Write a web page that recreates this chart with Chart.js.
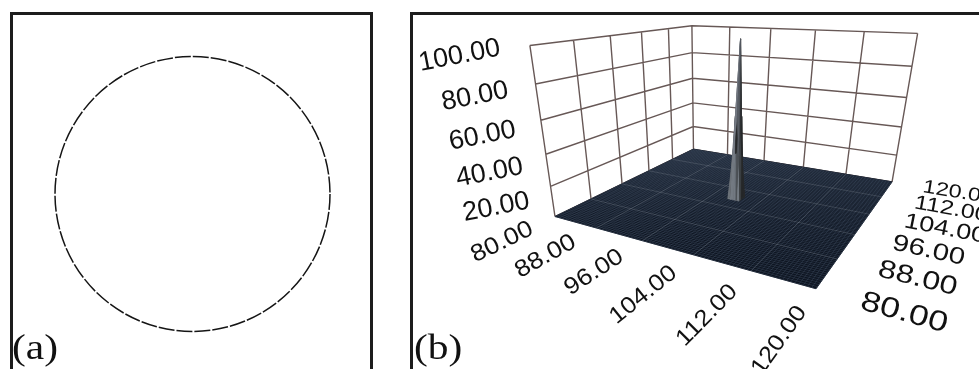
<!DOCTYPE html>
<html>
<head>
<meta charset="utf-8">
<script src="https://cdn.jsdelivr.net/npm/chart.js@4.4.1/dist/chart.umd.min.js"></script>
<style>
  html, body { margin: 0; padding: 0; background: #fff; overflow: hidden; }
  body { width: 979px; height: 369px; position: relative; }
  canvas { position: absolute; top: 0; }
  #canvasA { left: 0; }
  #canvasB { left: 400px; }
  .frame { position: absolute; border: 3px solid #1d1d1d; border-bottom: none; }
  #frameA { left: 10px; top: 12px; width: 357px; height: 400px; }
  #frameB { left: 410px; top: 12px; width: 700px; height: 400px; }
  .tag { position: absolute; top: 329px; font-family: 'Liberation Serif', serif; font-size: 36px; line-height: 36px; color: #111; transform-origin: left top; transform: scaleX(1.15); }
</style>
</head>
<body>
<canvas id="canvasA" width="385" height="369"></canvas>
<canvas id="canvasB" width="579" height="369"></canvas>
<div class="frame" id="frameA"></div>
<div class="frame" id="frameB"></div>
<div class="tag" style="left:12px">(a)</div>
<div class="tag" style="left:414px">(b)</div>
<script>
// Panel (a): the dashed circle (centre and radius in plot units)
const circleX = [0];
const circleY = [0];
const circleR = [1];

// Panel (b): axis ticks
const xTicks = [80, 88, 96, 104, 112, 120];
const yTicks = [80, 88, 96, 104, 112, 120];
const zTicks = [0, 20, 40, 60, 80, 100];

// Panel (b): surface is flat (0) except a narrow peak around (100, 100)
const spikeNodeX = [99, 99.5, 100, 100.5, 101];
const spikeNodeY = [99, 99.5, 100, 100.5, 101];
const spikeZ = [
    [0, 0, 0, 0, 0],
    [0, 30, 55, 30, 0],
    [0, 55, 100, 55, 0],
    [0, 30, 55, 30, 0],
    [0, 0, 0, 0, 0]
];
const meshStep = 0.5;

// ---------- panel (a) ----------
const dashedCircle = {
    id: 'dashedCircle',
    beforeDatasetDraw(chart) { chart.ctx.setLineDash([16, 2]); },
    afterDatasetDraw(chart) { chart.ctx.setLineDash([]); }
};

const radiusFromScale = ctx => {
    const d = ctx.raw;
    if (!d) return 0;
    const s = ctx.chart.scales.x;
    return s.getPixelForValue(d.x + d.r) - s.getPixelForValue(d.x);
};

new Chart(document.getElementById('canvasA'), {
    type: 'scatter',
    data: {
        datasets: [{
            data: circleX.map((x, i) => ({ x: x, y: circleY[i], r: circleR[i] })),
            pointRadius: radiusFromScale,
            pointHoverRadius: radiusFromScale,
            backgroundColor: 'rgba(0,0,0,0)',
            borderColor: '#151515',
            borderWidth: 1.5
        }]
    },
    options: {
        responsive: false,
        animation: false,
        events: [],
        layout: { padding: 0 },
        plugins: { legend: { display: false }, tooltip: { enabled: false } },
        scales: {
            x: { type: 'linear', display: false, min: -1.4, max: 1.4 },
            y: { type: 'linear', display: false, min: -1.273, max: 1.411 }
        }
    },
    plugins: [dashedCircle]
});

// ---------- panel (b) ----------
// camera: where some box corners sit in the picture (page px), fitted to a 3x4 projection
const cameraAnchors = [
    [80, 80, 0, 555, 215],
    [120, 80, 0, 817, 289],
    [120, 120, 0, 892, 182],
    [80, 120, 0, 693, 150],
    [80, 80, 100, 529, 47],
    [80, 120, 100, 693, 25],
    [120, 120, 100, 917, 33]
];

function normWorld(X, Y, Z) {
    return [(X - 100) / 20, (Y - 100) / 20, (Z - 50) / 50];
}

function fitCamera(anchors) {
    const rows = [], rhs = [];
    anchors.forEach(([X, Y, Z, u, v]) => {
        const [x, y, z] = normWorld(X, Y, Z);
        const un = (u - 700) / 200, vn = (v - 170) / 200;
        rows.push([x, y, z, 1, 0, 0, 0, 0, -un * x, -un * y, -un * z]); rhs.push(un);
        rows.push([0, 0, 0, 0, x, y, z, 1, -vn * x, -vn * y, -vn * z]); rhs.push(vn);
    });
    const n = 11;
    const M = Array.from({ length: n }, () => new Array(n + 1).fill(0));
    rows.forEach((r, k) => {
        for (let i = 0; i < n; i++) {
            for (let j = 0; j < n; j++) M[i][j] += r[i] * r[j];
            M[i][n] += r[i] * rhs[k];
        }
    });
    for (let c = 0; c < n; c++) {
        let p = c;
        for (let r = c + 1; r < n; r++) if (Math.abs(M[r][c]) > Math.abs(M[p][c])) p = r;
        [M[c], M[p]] = [M[p], M[c]];
        for (let r = 0; r < n; r++) {
            if (r === c) continue;
            const f = M[r][c] / M[c][c];
            for (let k = c; k <= n; k++) M[r][k] -= f * M[c][k];
        }
    }
    return M.map((row, i) => row[n] / row[i]);
}

const cam = fitCamera(cameraAnchors);

function project(X, Y, Z) {
    const [x, y, z] = normWorld(X, Y, Z);
    const w = cam[8] * x + cam[9] * y + cam[10] * z + 1;
    const un = (cam[0] * x + cam[1] * y + cam[2] * z + cam[3]) / w;
    const vn = (cam[4] * x + cam[5] * y + cam[6] * z + cam[7]) / w;
    return { x: 700 + 200 * un, y: 170 + 200 * vn, w: w };
}

const P = (X, Y, Z) => { const p = project(X, Y, Z); return { x: p.x, y: p.y }; };
const GAP = { x: null, y: null };

const xMin = xTicks[0], xMax = xTicks[xTicks.length - 1];
const yMin = yTicks[0], yMax = yTicks[yTicks.length - 1];
const zMax = zTicks[zTicks.length - 1];

// back walls: x = xMin and y = yMax
const wallPts = [];
yTicks.forEach(v => wallPts.push(P(xMin, v, 0), P(xMin, v, zMax), GAP));
xTicks.forEach(v => wallPts.push(P(v, yMax, 0), P(v, yMax, zMax), GAP));
zTicks.forEach(v => wallPts.push(P(xMin, yMin, v), P(xMin, yMax, v), P(xMax, yMax, v), GAP));

// surface mesh at z = 0
const floorPts = [P(xMin, yMin, 0), P(xMax, yMin, 0), P(xMax, yMax, 0), P(xMin, yMax, 0), P(xMin, yMin, 0)];
const meshPts = [];
for (let v = xMin; v <= xMax + 1e-9; v += meshStep) meshPts.push(P(v, yMin, 0), P(v, yMax, 0), GAP);
for (let v = yMin; v <= yMax + 1e-9; v += meshStep) meshPts.push(P(xMin, v, 0), P(xMax, v, 0), GAP);

const floorTickPts = [];
xTicks.slice(1, -1).forEach(v => floorTickPts.push(P(v, yMin, 0), P(v, yMax, 0), GAP));
yTicks.slice(1, -1).forEach(v => floorTickPts.push(P(xMin, v, 0), P(xMax, v, 0), GAP));

// peak: triangles, shaded and sorted far -> near
const zScale = 0.246;
const light = (() => { const l = [-0.45, -1, 0.35]; const m = Math.hypot(...l); return l.map(c => c / m); })();
const tris = [];
for (let i = 0; i < spikeNodeX.length - 1; i++) {
    for (let j = 0; j < spikeNodeY.length - 1; j++) {
        const N = (a, b) => [spikeNodeX[a], spikeNodeY[b], spikeZ[b][a]];
        const c00 = N(i, j), c10 = N(i + 1, j), c11 = N(i + 1, j + 1), c01 = N(i, j + 1);
        if (Math.max(c00[2], c11[2]) >= Math.max(c10[2], c01[2])) {
            tris.push([c00, c10, c11], [c00, c11, c01]);
        } else {
            tris.push([c10, c11, c01], [c10, c01, c00]);
        }
    }
}
const spikeSets = tris.map(t => {
    const a = t[0], b = t[1], c = t[2];
    const u = [b[0] - a[0], b[1] - a[1], (b[2] - a[2]) * zScale];
    const v = [c[0] - a[0], c[1] - a[1], (c[2] - a[2]) * zScale];
    let n = [u[1] * v[2] - u[2] * v[1], u[2] * v[0] - u[0] * v[2], u[0] * v[1] - u[1] * v[0]];
    if (n[2] < 0) n = n.map(q => -q);
    const m = Math.hypot(...n) || 1;
    const dot = (n[0] * light[0] + n[1] * light[1] + n[2] * light[2]) / m;
    const s = 0.3 + 0.7 * Math.max(0, dot);
    const col = `rgb(${Math.round(125 * s)},${Math.round(132 * s)},${Math.round(141 * s)})`;
    const depth = t.reduce((acc, q) => acc + project(q[0], q[1], q[2]).w, 0) / 3;
    return {
        depth: depth,
        dataset: {
            data: [P(...a), P(...b), P(...c), P(...a)],
            fill: 'shape',
            backgroundColor: col,
            borderColor: col,
            borderWidth: 0.6
        }
    };
}).sort((p, q) => q.depth - p.depth);
spikeSets.forEach((s, k) => { s.dataset.order = spikeSets.length - k; });

const lineSet = (data, color, width, order, extra) => Object.assign({
    data: data, borderColor: color, borderWidth: width, fill: false, order: order
}, extra || {});

const datasets = [
    lineSet(wallPts, '#675856', 1.4, 1000),
    lineSet(floorPts, '#0d1420', 1, 999, { fill: 'shape', backgroundColor: '#0d1420' }),
    lineSet(meshPts, 'rgba(82,98,122,0.55)', 0.55, 998),
    lineSet(floorTickPts, 'rgba(190,195,205,0.22)', 0.8, 997)
].concat(spikeSets.map(s => s.dataset));

// tick labels lying in the 3D scene
function drawSceneText(ctx, txt, at, dir, size, squash, align) {
    ctx.save();
    ctx.translate(at.x, at.y);
    ctx.rotate(Math.atan2(dir.y, dir.x));
    ctx.scale(1, squash);
    ctx.font = size.toFixed(1) + 'px "Liberation Sans", Arial, sans-serif';
    ctx.textAlign = align;
    ctx.textBaseline = 'middle';
    ctx.fillText(txt, 0, 0);
    ctx.restore();
}

const axisLabels = {
    id: 'axisLabels',
    afterDatasetsDraw(chart) {
        const { ctx, scales } = chart;
        const px = p => ({ x: scales.x.getPixelForValue(p.x), y: scales.y.getPixelForValue(p.y) });
        const step = (p0, p1, units) => {
            const a = px(p0), b = px(p1);
            return { x: (b.x - a.x) / units, y: (b.y - a.y) / units };
        };
        ctx.save();
        ctx.fillStyle = '#111';
        // x ticks along the front-left edge, text running toward +y
        xTicks.forEach(v => {
            const d = step(P(v, yMin - 7, 0), P(v, yMin - 5, 0), 2);
            const len = Math.hypot(d.x, d.y);
            drawSceneText(ctx, v.toFixed(2), px(P(v, yMin - 4.5, 0)), d, 4.3 * len, 0.9, 'right');
        });
        // y ticks along the front-right edge, text running toward +x
        yTicks.forEach(v => {
            const d = step(P(xMax + 5, v, 0), P(xMax + 7, v, 0), 2);
            const len = Math.hypot(d.x, d.y);
            drawSceneText(ctx, v.toFixed(2), px(P(xMax + 5, v, 0)), d, 3.6 * len, 0.8, 'left');
        });
        // z ticks on the left
        const tilt = { x: Math.cos(-11 * Math.PI / 180), y: Math.sin(-11 * Math.PI / 180) };
        zTicks.slice(1).forEach(v => {
            const at = px(P(xMin, yMin - 8, v));
            drawSceneText(ctx, v.toFixed(2), { x: at.x + 23, y: at.y - 4 }, tilt, 27, 1, 'right');
        });
        ctx.restore();
    }
};

new Chart(document.getElementById('canvasB'), {
    type: 'line',
    data: { datasets: datasets },
    options: {
        responsive: false,
        animation: false,
        events: [],
        layout: { padding: 0 },
        elements: { point: { radius: 0, hoverRadius: 0 }, line: { tension: 0 } },
        plugins: { legend: { display: false }, tooltip: { enabled: false } },
        scales: {
            x: { type: 'linear', display: false, min: 400, max: 979 },
            y: { type: 'linear', display: false, min: 0, max: 369, reverse: true }
        }
    },
    plugins: [axisLabels]
});
</script>
</body>
</html>
